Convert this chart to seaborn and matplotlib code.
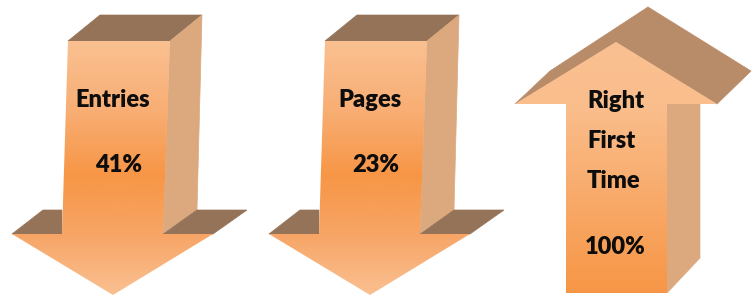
import numpy as np
import matplotlib
matplotlib.use("Agg")
import matplotlib.pyplot as plt
from matplotlib.patches import Polygon
from matplotlib.colors import LinearSegmentedColormap
import seaborn as sns

# chart data
labels = ["Entries", "Pages", "Right\nFirst\nTime"]
values = [41, 23, 100]
directions = ["down", "down", "up"]

# layout (pixel space of the 754x295 picture)
arrow_left = [68, 325, 566]
width, height = 754, 295

light = "#FAC091"
orange = "#F79646"
side_color = "#DCA97F"
top_dark = "#957359"
top_up = "#B98C69"
txt = dict(fontsize=17, fontweight="heavy", color="#0D0D0D", zorder=5)


def gradient_fill(ax, pts, stops):
    patch = Polygon(pts, closed=True, facecolor="none", edgecolor="none")
    ax.add_patch(patch)
    pts = np.array(pts)
    y0, y1 = pts[:, 1].min(), pts[:, 1].max()
    pos = [(s - y0) / (y1 - y0) for s, _ in stops]
    cmap = LinearSegmentedColormap.from_list("g", list(zip(pos, [c for _, c in stops])))
    grad = np.linspace(0, 1, 256).reshape(-1, 1)
    im = ax.imshow(grad, cmap=cmap, aspect="auto", interpolation="bilinear",
                   extent=[pts[:, 0].min(), pts[:, 0].max(), y1, y0], zorder=2)
    im.set_clip_path(patch)


def poly(ax, pts, color, z=1):
    ax.add_patch(Polygon(pts, closed=True, facecolor=color, edgecolor=color,
                         linewidth=0.5, zorder=z))


def down_arrow(ax, x0, label, value):
    sh = lambda p: [(x0 + a, b) for a, b in p]
    poly(ax, sh([(0, 41), (32, 15), (134, 15), (102, 41)]), top_dark)
    poly(ax, sh([(102, 41), (134, 15), (129, 210), (95, 233)]), side_color)
    poly(ax, sh([(-56, 234), (-25, 210), (-6, 210), (-6, 234)]), top_dark)
    poly(ax, sh([(95, 234), (129, 210), (179, 210), (145, 234)]), top_dark)
    front = sh([(0, 41), (102, 41), (95, 234), (145, 234), (45, 295),
                (-56, 234), (-6, 234)])
    gradient_fill(ax, front, [(41, light), (110, "#F8AE74"), (175, orange),
                              (235, "#F7A566"), (295, light)])
    ax.text(x0 + 45, 100, label, ha="center", va="center", **txt)
    ax.text(x0 + 51, 165, f"{value}%", ha="center", va="center", **txt)


def up_arrow(ax, x0, label, value):
    sh = lambda p: [(x0 + a, b) for a, b in p]
    poly(ax, sh([(101, 104), (134, 104), (134, 258), (101, 293)]), side_color)
    poly(ax, sh([(-51, 104), (-16, 71), (82, 7), (50, 42)]), top_up)
    poly(ax, sh([(50, 42), (82, 7), (185, 71), (151, 104)]), top_up)
    front = sh([(-51, 104), (50, 42), (151, 104), (101, 104), (101, 293),
                (0, 293), (0, 104)])
    gradient_fill(ax, front, [(42, light), (104, "#FABE8D"), (293, orange)])
    for i, line in enumerate(label.split("\n")):
        ax.text(x0 + 21, 101 + 40 * i, line, ha="left", va="center", **txt)
    ax.text(x0 + 49, 247, f"{value}%", ha="center", va="center", **txt)


sns.set_theme(style="white")
plt.rcParams["font.family"] = ["Lato", "DejaVu Sans"]

fig = plt.figure(figsize=(7.54, 2.95), dpi=100)
ax = fig.add_axes([0, 0, 1, 1])
ax.set_xlim(0, width)
ax.set_ylim(height, 0)
ax.axis("off")

for x0, lab, val, d in zip(arrow_left, labels, values, directions):
    if d == "down":
        down_arrow(ax, x0, lab, val)
    else:
        up_arrow(ax, x0, lab, val)

fig.savefig("out.png", dpi=100, facecolor="white")
